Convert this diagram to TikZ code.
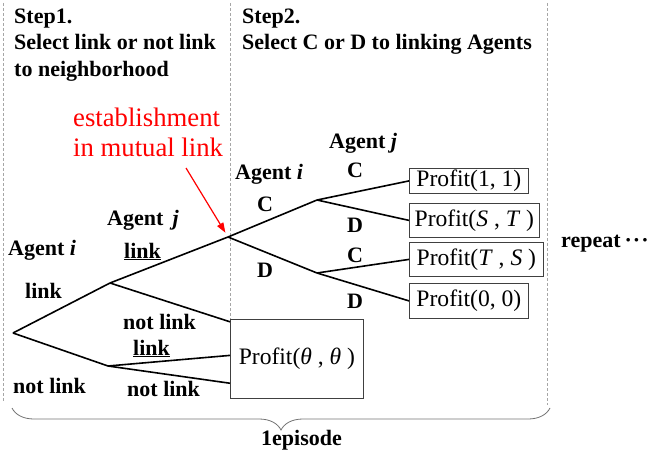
\documentclass[tikz,border=0pt]{standalone}
\usepackage{fontspec}
\setmainfont{Liberation Serif}[BoldFont={Liberation Serif Bold},BoldItalicFont={Liberation Serif Bold Italic},ItalicFont={Liberation Serif Italic}]
\usetikzlibrary{decorations.pathreplacing,arrows.meta}
\begin{document}
\begin{tikzpicture}[x=1pt,y=-1pt,
  lbl/.style={anchor=base west,inner sep=0pt,font=\fontsize{22}{26}\selectfont\bfseries},
  redlbl/.style={anchor=base west,inner sep=0pt,text=red,font=\fontsize{26.7}{30}\selectfont},
  branch/.style={line width=1.6pt},
  pbox/.style={draw=black!75,line width=0.8pt,fill=white,inner sep=0pt,anchor=north west,font=\fontsize{23.6}{28}\selectfont},
  sepline/.style={draw=black!35,dash pattern=on 3pt off 2pt,line width=0.8pt}]
\useasboundingbox (0,0) rectangle (655,457);
% separators
\coordinate (dl1) at (3,3);   \coordinate (dl2) at (3,402);
\coordinate (dm1) at (230,3); \coordinate (dm2) at (230,319);
\coordinate (dr1) at (547,3); \coordinate (dr2) at (547,405);
\draw[sepline] (dl1) -- (dl2);
\draw[sepline] (dm1) -- (dm2);
\draw[sepline] (dr1) -- (dr2);
% headers
\node[lbl] (s1)  at (14,24) {Step1.};
\node[lbl] (s1a) at (14,50) {Select link or not link};
\node[lbl] (s1b) at (14,77) {to neighborhood};
\node[lbl] (s2)  at (242,24) {Step2.};
\node[lbl] (s2a) at (242,50) {Select C or D to linking Agents};
% red annotation
\node[redlbl] (e1) at (73,127) {establishment};
\node[redlbl] (e2) at (73,157) {in mutual link};
\coordinate (arrS) at (186,168);
% tree points
\coordinate (r)  at (13,333);
\coordinate (jl) at (110,283);
\coordinate (jn) at (108,366);
\coordinate (m)  at (228,237);
\coordinate (ic) at (317,200);
\coordinate (id) at (317,273);
% boxes
\node[pbox,minimum width=119pt,minimum height=25pt] (p11) at (409,168) {Profit(1, 1)};
\node[pbox,minimum width=130pt,minimum height=34pt] (pst) at (409,203) {Profit(\textit{S} , \textit{T} )};
\node[pbox,minimum width=134pt,minimum height=34pt] (pts) at (409,242) {Profit(\textit{T} , \textit{S} )};
\node[pbox,minimum width=119pt,minimum height=35pt] (p00) at (409,283) {Profit(0, 0)};
\node[pbox,minimum width=133pt,minimum height=79pt] (th)  at (230,319) {Profit(\textit{θ} , \textit{θ} )};
% branches
\draw[branch] (r) -- (jl);
\draw[branch] (r) -- (jn);
\draw[branch] (jl) -- (m);
\draw[branch] (jl) -- (th.151);
\draw[branch] (jn) -- (th.177);
\draw[branch] (jn) -- (th.200);
\draw[branch] (m) -- (ic);
\draw[branch] (m) -- (id);
\draw[branch] (ic) -- (p11.west);
\draw[branch] (ic) -- (pst.west);
\draw[branch] (id) -- (pts.west);
\draw[branch] (id) -- (p00.west);
\draw[red,line width=1.2pt,-{Triangle[length=10pt,width=7pt]},shorten >=5pt] (arrS) -- (m);
% labels
\node[lbl] (ai1) at (8,255)   {Agent \textit{i}};
\node[lbl] (l1)  at (25,298)  {link};
\node[lbl] (aj1) at (107,225) {Agent \,\textit{j}};
\node[lbl] (l2)  at (124,258) {\underline{link}};
\node[lbl] (nl1) at (123,329) {not link};
\node[lbl] (l3)  at (133,355) {\underline{link}};
\node[lbl] (nl2) at (13,393)  {not link};
\node[lbl] (nl3) at (127,396) {not link};
\node[lbl] (ai2) at (235,179) {Agent \textit{i}};
\node[lbl] (c1)  at (257,211) {C};
\node[lbl] (d1)  at (257,277) {D};
\node[lbl] (aj2) at (329,149) {Agent \textit{j}};
\node[lbl] (c2)  at (347,178) {C};
\node[lbl] (d2)  at (347,232) {D};
\node[lbl] (c3)  at (347,262) {C};
\node[lbl] (d3)  at (347,308) {D};
\node[lbl] (rep) at (561,247) {repeat\kern4pt·\kern1pt·\kern1pt·};
% brace
\coordinate (bR) at (550,408);
\coordinate (bL) at (12,408);
\draw[black!55,line width=0.8pt,decorate,decoration={brace,amplitude=22pt}] (bR) -- (bL);
\node[lbl] (ep) at (261,445) {1episode};
\end{tikzpicture}
\end{document}
